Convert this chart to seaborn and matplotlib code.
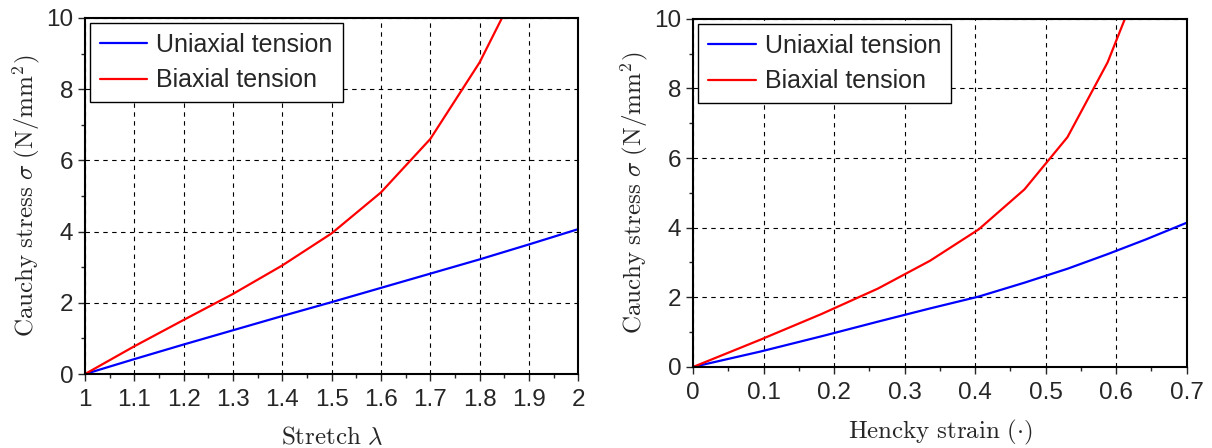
import numpy as np
import pandas as pd
import matplotlib
matplotlib.use('Agg')
import matplotlib.pyplot as plt
import seaborn as sns
from matplotlib.ticker import MultipleLocator

# Data
stretch = [1.0, 1.1, 1.2, 1.3, 1.4, 1.5, 1.6, 1.7, 1.8, 1.9, 2.0]
hencky = [0.0, 0.095, 0.182, 0.262, 0.336, 0.405, 0.470, 0.531, 0.588, 0.642, 0.700]
uniaxial = [0.0, 0.42, 0.83, 1.23, 1.63, 2.02, 2.42, 2.82, 3.22, 3.64, 4.07]
uniaxial_h = [0.0, 0.44, 0.88, 1.30, 1.68, 2.02, 2.42, 2.82, 3.24, 3.66, 4.14]
biaxial = [0.0, 0.78, 1.52, 2.25, 3.05, 3.95, 5.1, 6.6, 8.75, 11.5, 15.0]
labels = ['Uniaxial tension', 'Biaxial tension']

sns.set_style('ticks')
plt.rcParams['font.family'] = ['Liberation Sans', 'DejaVu Sans']
plt.rcParams['mathtext.fontset'] = 'cm'

n = len(stretch)
df_l = pd.DataFrame({'x': stretch * 2, 'stress': uniaxial + biaxial,
                     'case': [labels[0]] * n + [labels[1]] * n})
df_r = pd.DataFrame({'x': hencky * 2, 'stress': uniaxial_h + biaxial,
                     'case': [labels[0]] * n + [labels[1]] * n})

fig = plt.figure(figsize=(12.12, 4.48), dpi=100)
ax1 = fig.add_axes([0.0701, 0.165, 0.407, 0.795])
ax2 = fig.add_axes([0.572, 0.181, 0.407, 0.777])

ylabel = r'$\mathrm{Cauchy\ stress}\ \sigma\ (\mathrm{N/mm^2})$'

for ax, df, xlim, xlab in [
    (ax1, df_l, (1, 2), r'$\mathrm{Stretch}\ \lambda$'),
    (ax2, df_r, (0, 0.7), r'$\mathrm{Hencky\ strain}\ (\cdot)$'),
]:
    sns.lineplot(data=df, x='x', y='stress', hue='case', sort=False,
                 palette=['#0000ff', '#ff0000'], linewidth=1.6, ax=ax)
    ax.set_xlim(*xlim)
    ax.set_ylim(0, 10)
    ax.xaxis.set_major_locator(MultipleLocator(0.1))
    ax.xaxis.set_minor_locator(MultipleLocator(0.05))
    ax.yaxis.set_major_locator(MultipleLocator(2))
    ax.yaxis.set_minor_locator(MultipleLocator(1))
    ax.xaxis.set_major_formatter(plt.FuncFormatter(lambda v, p: f'{v:g}'))
    ax.grid(True, which='major', color='black', linestyle=(0, (4, 4)), linewidth=0.8)
    ax.tick_params(axis='x', which='both', direction='out', labelsize=17.5, pad=6)
    ax.tick_params(axis='y', which='both', direction='out', labelsize=17.5)
    ax.tick_params(which='major', length=5, width=1)
    ax.tick_params(which='minor', length=3, width=1)
    for s in ax.spines.values():
        s.set_color('black')
        s.set_linewidth(1.5)
    ax.set_xlabel(xlab, fontsize=18, labelpad=10)
    ax.set_ylabel(ylabel, fontsize=18, labelpad=3)
    leg = ax.legend(loc='upper left', fontsize=18, frameon=True, fancybox=False,
                    edgecolor='black', framealpha=1, borderaxespad=0.2,
                    handlelength=1.9, handletextpad=0.35, borderpad=0.4,
                    labelspacing=0.46)
    leg.get_frame().set_linewidth(1.0)

fig.savefig('out.png', dpi=100)
